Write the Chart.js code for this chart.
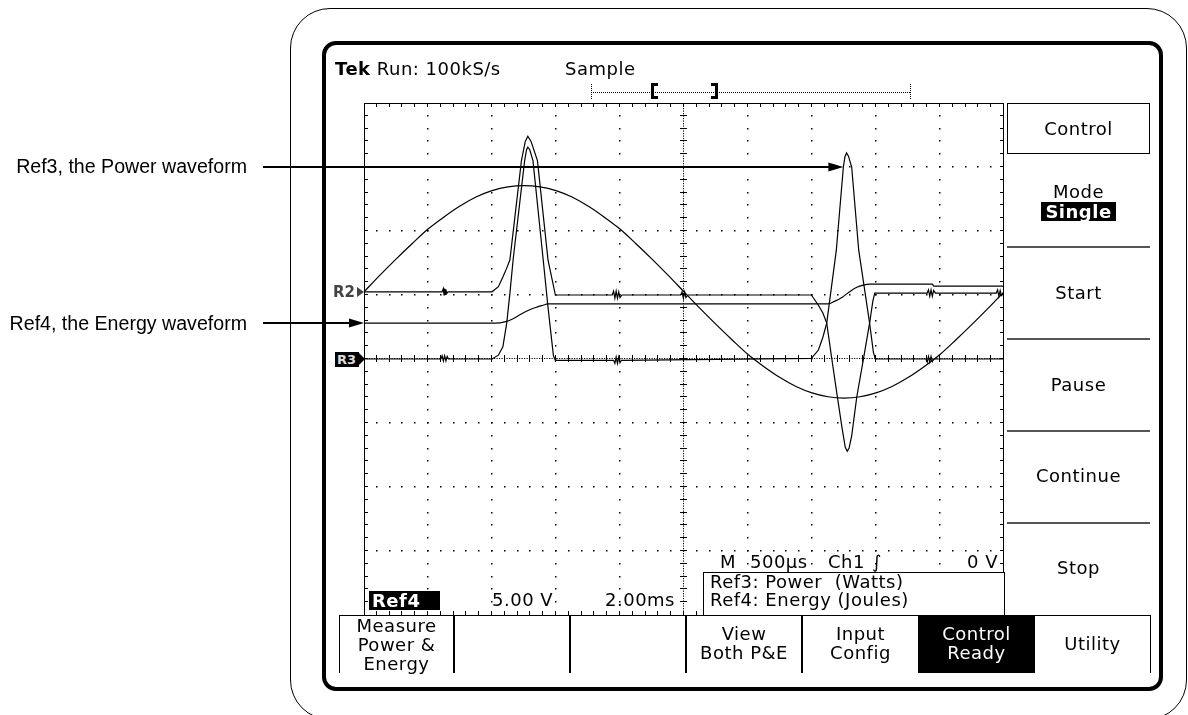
<!DOCTYPE html>
<html>
<head>
<meta charset="utf-8">
<script src="https://cdn.jsdelivr.net/npm/chart.js@4.4.0/dist/chart.umd.min.js"></script>
<style>
  html, body { margin: 0; padding: 0; background: #fff; }
  #stage { position: relative; width: 1188px; height: 715px; overflow: hidden;
           font-family: "DejaVu Sans", sans-serif; color: #000; }
  .abs { position: absolute; white-space: pre; box-sizing: border-box; }
  #scope { position: absolute; left: 0; top: 0; z-index: 2; }
  .bezel { left: 290px; top: 8px; width: 897px; height: 712px; border: 1.5px solid #000; border-radius: 40px; z-index: 1; }
  .frame { left: 322px; top: 41px; width: 841px; height: 650px; border: 4px solid #000; border-radius: 14px; z-index: 1; }
  .ui { z-index: 3; font-size: 18px; letter-spacing: 0.5px; line-height: 20px; }
  .note { z-index: 3; right: 941px; font-family: "Liberation Sans", Arial, sans-serif; font-size: 19.6px; line-height: 20px; text-align: right; }
  .rm { left: 1007px; width: 143px; text-align: center; }
  .ctrl { left: 1007px; top: 103px; width: 143px; height: 51px; border: 1px solid #000; text-align: center; line-height: 49px; }
  .inv { display: inline-block; background: #000; color: #fff; font-weight: bold; line-height: 19px; padding: 0 4px; }
  .sep { left: 1007px; width: 143px; height: 2px; background: #555; z-index: 3; }
  .hl { height: 1px; background: #000; z-index: 3; }
  .vl { width: 2px; background: #000; z-index: 3; }
  .btn { z-index: 3; text-align: center; line-height: 19px; }
  .dot { border-top: 1px dotted #000; height: 0; z-index: 3; }
  .vdot { border-left: 1px dotted #000; width: 0; z-index: 3; }
</style>
</head>
<body>
<div id="stage">
  <div class="abs bezel"></div>
  <div class="abs frame"></div>
  <canvas id="scope" width="1188" height="715"></canvas>

  <!-- callouts -->
  <div class="abs note" style="top:156px">Ref3, the Power waveform</div>
  <div class="abs note" style="top:313px">Ref4, the Energy waveform</div>

  <!-- status line -->
  <div class="abs ui" style="left:335px;top:59px"><b>Tek</b> Run: 100kS/s</div>
  <div class="abs ui" style="left:565px;top:59px">Sample</div>

  <!-- record / trigger position bar -->
  <div class="abs dot" style="left:591px;top:92px;width:319px"></div>
  <div class="abs vdot" style="left:591px;top:84px;height:15px"></div>
  <div class="abs vdot" style="left:910px;top:84px;height:15px"></div>
  <div class="abs" style="left:651px;top:83px;width:7px;height:16px;border:3px solid #000;border-right:none;z-index:3"></div>
  <div class="abs" style="left:711px;top:83px;width:7px;height:16px;border:3px solid #000;border-left:none;z-index:3"></div>

  <!-- reference markers -->
  <div class="abs" style="left:333px;top:283px;font-size:15px;font-weight:bold;color:#444;line-height:18px;z-index:3">R2</div>
  <div class="abs" style="left:357px;top:287px;width:0;height:0;border-left:7px solid #444;border-top:5px solid transparent;border-bottom:5px solid transparent;z-index:3"></div>
  <div class="abs" style="left:335px;top:352px;width:24px;height:15px;background:#000;color:#ddd;font-size:13px;font-weight:bold;line-height:15px;padding-left:2px;z-index:3">R3</div>
  <div class="abs" style="left:358px;top:352px;width:0;height:0;border-left:7px solid #000;border-top:7.5px solid transparent;border-bottom:7.5px solid transparent;z-index:3"></div>

  <!-- right side menu -->
  <div class="abs ui ctrl">Control</div>
  <div class="abs ui rm" style="top:182px">Mode</div>
  <div class="abs ui rm" style="top:202px;line-height:19px"><span class="inv">Single</span></div>
  <div class="abs sep" style="top:246px"></div>
  <div class="abs ui rm" style="top:283px">Start</div>
  <div class="abs sep" style="top:338px"></div>
  <div class="abs ui rm" style="top:375px">Pause</div>
  <div class="abs sep" style="top:430px"></div>
  <div class="abs ui rm" style="top:466px">Continue</div>
  <div class="abs sep" style="top:522px"></div>
  <div class="abs ui rm" style="top:558px">Stop</div>

  <!-- readouts inside the graticule -->
  <div class="abs ui" style="left:369px;top:591px;width:71px;height:19px;background:#000;color:#fff;font-weight:bold;line-height:19px;padding-left:3px">Ref4</div>
  <div class="abs ui" style="left:492px;top:590px">5.00 V</div>
  <div class="abs ui" style="left:605px;top:590px">2.00ms</div>
  <div class="abs ui" style="left:720px;top:552px">M</div>
  <div class="abs ui" style="left:750px;top:552px">500µs</div>
  <div class="abs ui" style="left:828px;top:552px">Ch1</div>
  <div class="abs ui" style="left:872px;top:552px;font-style:italic">∫</div>
  <div class="abs ui" style="left:967px;top:552px">0 V</div>
  <div class="abs ui" style="left:703px;top:572px;width:302px;height:44px;border:1px solid #000;border-bottom:none;background:#fff;line-height:18px;padding-left:6px">Ref3: Power  (Watts)
Ref4: Energy (Joules)</div>

  <!-- bottom menu -->
  <div class="abs hl" style="left:339px;top:615px;width:812px"></div>
  <div class="abs" style="left:339px;top:615px;width:1px;height:58px;background:#000;z-index:3"></div>
  <div class="abs vl" style="left:453px;top:615px;height:58px"></div>
  <div class="abs vl" style="left:569px;top:615px;height:58px"></div>
  <div class="abs vl" style="left:685px;top:615px;height:58px"></div>
  <div class="abs vl" style="left:801px;top:615px;height:58px"></div>
  <div class="abs" style="left:918px;top:615px;width:117px;height:58px;background:#000;z-index:3"></div>
  <div class="abs" style="left:1150px;top:615px;width:1px;height:58px;background:#000;z-index:3"></div>
  <div class="abs ui btn" style="left:340px;top:616px;width:113px">Measure
Power &amp;
Energy</div>
  <div class="abs ui btn" style="left:687px;top:624px;width:114px">View
Both P&amp;E</div>
  <div class="abs ui btn" style="left:803px;top:624px;width:115px">Input
Config</div>
  <div class="abs ui btn" style="left:918px;top:624px;width:117px;color:#fff">Control
Ready</div>
  <div class="abs ui btn" style="left:1035px;top:634px;width:115px">Utility</div>
</div>

<script>
// ---- waveform data (time in divisions, amplitude in divisions) ----

// large sine reference (one full cycle across the screen)
const sineT = [0, 0.25, 0.5, 0.75, 1, 1.25, 1.5, 1.75, 2, 2.25, 2.5, 2.75, 3, 3.25, 3.5, 3.75, 4, 4.25, 4.5, 4.75,
               5, 5.25, 5.5, 5.75, 6, 6.25, 6.5, 6.75, 7, 7.25, 7.5, 7.75, 8, 8.25, 8.5, 8.75, 9, 9.25, 9.5, 9.75, 10];
const sineV = [1.05, 1.31, 1.56, 1.80, 2.03, 2.22, 2.39, 2.53, 2.63, 2.69, 2.71, 2.69, 2.63, 2.53, 2.39, 2.22, 2.03, 1.80, 1.56, 1.31,
               1.05, 0.79, 0.54, 0.30, 0.07, -0.12, -0.29, -0.43, -0.53, -0.59, -0.61, -0.59, -0.53, -0.43, -0.29, -0.12, 0.07, 0.30, 0.54, 0.79, 1.05];

// R2 trace (current pulses, noisy baseline)
const currentT = [0, 1.22, 1.24, 1.25, 1.26, 1.27, 1.28, 1.29, 1.31, 2.0, 2.1, 2.17, 2.23, 2.28, 2.46, 2.52, 2.56, 2.61, 2.71, 2.875, 2.99,
                  3.88, 3.9, 3.92, 3.94, 3.96, 3.98, 4.0, 4.03, 4.95, 4.97, 4.99, 5.01, 5.03, 5.06, 6.99, 7.10, 7.17, 7.23, 7.31, 7.39,
                  7.47, 7.52, 7.55, 7.58, 7.62, 7.70, 7.80, 7.90, 7.95, 7.98, 8.80, 8.82, 8.84, 8.86, 8.88, 8.90, 8.93, 9.88, 9.90,
                  9.92, 9.94, 9.96, 10];
const currentV = [1.05, 1.05, 1.10, 1.00, 1.10, 1.01, 1.09, 1.02, 1.05, 1.05, 1.13, 1.28, 1.42, 1.55, 3.10, 3.40, 3.48, 3.40, 3.10, 1.55, 1.00,
                  1.00, 1.06, 0.95, 1.06, 0.95, 1.05, 0.96, 1.00, 1.00, 1.05, 0.95, 1.05, 0.96, 1.00, 1.00, 0.84, 0.72, 0.56, 0.00, -0.55,
                  -1.08, -1.38, -1.44, -1.39, -1.20, -0.59, -0.02, 0.56, 0.90, 1.03, 1.03, 1.08, 0.98, 1.08, 0.98, 1.07, 1.03, 1.03, 1.08,
                  0.98, 1.07, 0.99, 1.03];

// Ref3 — power
const powerT = [0, 1.20, 1.22, 1.24, 1.26, 1.28, 1.30, 1.32, 2.0, 2.1, 2.17, 2.23, 2.28, 2.33, 2.51, 2.54, 2.56, 2.59, 2.64, 2.80, 2.875,
                2.96, 2.99, 3.90, 3.92, 3.94, 3.96, 3.98, 4.00, 4.02, 6.99, 7.10, 7.17, 7.23, 7.38, 7.49, 7.515, 7.54, 7.57, 7.62,
                7.73, 7.90, 7.96, 7.99, 8.78, 8.80, 8.82, 8.84, 8.86, 8.88, 8.90, 10];
const powerV = [0, 0, 0.05, -0.03, 0.05, -0.03, 0.04, 0, 0, 0.06, 0.19, 0.56, 1.03, 1.55, 3.10, 3.27, 3.31, 3.27, 3.10, 1.55, 0.81,
                0.05, -0.02, -0.02, -0.07, 0.03, -0.07, 0.03, -0.06, -0.02, 0.01, 0.14, 0.34, 0.56, 1.70, 3.00, 3.16, 3.22, 3.17, 3.00,
                1.70, 0.56, 0.10, 0.00, 0, -0.05, 0.04, -0.05, 0.04, -0.04, 0, 0];

// Ref4 — energy
const energyT = [0, 2.05, 2.2, 2.33, 2.45, 2.59, 2.70, 2.80, 2.87, 7.25, 7.35, 7.48, 7.60, 7.70, 7.80, 7.90, 8.88, 8.90, 10];
const energyV = [0.56, 0.56, 0.58, 0.63, 0.70, 0.77, 0.81, 0.84, 0.86, 0.86, 0.90, 0.97, 1.06, 1.12, 1.155, 1.17, 1.17, 1.14, 1.14];

// where the two callout arrows point (time, amplitude)
const calloutTargets = [[7.49, 3.0], [0, 0.56]];

const pairs = (t, v) => t.map((x, i) => ({ x: x, y: v[i] }));

// ---- scope graticule: dotted divisions, center cross and edge ticks ----
const graticule = {
  id: 'graticule',
  beforeDatasetsDraw(chart) {
    const { ctx, chartArea: a, scales: { x, y } } = chart;
    ctx.save();
    ctx.fillStyle = '#000';
    const dot = (px, py) => ctx.fillRect(Math.round(px) - 1, Math.round(py) - 1, 1.5, 1.5);

    for (let d = 1; d < 10; d++) {
      if (d === 5) continue;
      for (let j = 1; j < 40; j++) dot(x.getPixelForValue(d), y.getPixelForValue(-4 + j * 0.2));
    }
    for (let d = -3; d <= 3; d++) {
      if (d === 0) continue;
      for (let j = 1; j < 50; j++) dot(x.getPixelForValue(j * 0.2), y.getPixelForValue(d));
    }
    // center cross
    const cx = Math.round(x.getPixelForValue(5)), cy = Math.round(y.getPixelForValue(0));
    for (let p = a.top; p < a.bottom; p += 2.5) ctx.fillRect(cx - 1, p, 1, 1.2);
    for (let p = a.left; p < a.right; p += 2.5) ctx.fillRect(p, cy - 1, 1.2, 1);
    for (let j = 1; j < 40; j++) ctx.fillRect(cx - 4, Math.round(y.getPixelForValue(-4 + j * 0.2)) - 1, 7, 1);
    for (let j = 1; j < 50; j++) ctx.fillRect(Math.round(x.getPixelForValue(j * 0.2)) - 1, cy - 4, 1, 7);
    // edge ticks
    for (let j = 1; j < 40; j++) {
      const py = Math.round(y.getPixelForValue(-4 + j * 0.2)) - 1;
      ctx.fillRect(a.left, py, 4, 1);
      ctx.fillRect(a.right - 4, py, 4, 1);
    }
    for (let j = 1; j < 50; j++) {
      const px = Math.round(x.getPixelForValue(j * 0.2)) - 1;
      ctx.fillRect(px, a.top, 1, 4);
      ctx.fillRect(px, a.bottom - 4, 1, 4);
    }
    ctx.strokeStyle = '#000';
    ctx.lineWidth = 1;
    ctx.strokeRect(a.left + 0.5, a.top + 0.5, a.right - a.left - 1, a.bottom - a.top);
    ctx.restore();
  }
};

// ---- callout arrows from the side labels ----
const callouts = {
  id: 'callouts',
  afterDraw(chart) {
    const { ctx, scales: { x, y } } = chart;
    ctx.save();
    ctx.strokeStyle = '#000';
    ctx.fillStyle = '#000';
    ctx.lineWidth = 2;
    calloutTargets.forEach(([t, v]) => {
      const tx = x.getPixelForValue(t), ty = Math.round(y.getPixelForValue(v));
      ctx.beginPath();
      ctx.moveTo(263, ty);
      ctx.lineTo(tx - 12, ty);
      ctx.stroke();
      ctx.beginPath();
      ctx.moveTo(tx, ty);
      ctx.lineTo(tx - 15, ty - 4.5);
      ctx.lineTo(tx - 15, ty + 4.5);
      ctx.closePath();
      ctx.fill();
    });
    ctx.restore();
  }
};

const trace = (data, smooth) => ({
  data: data,
  borderColor: '#000',
  borderWidth: 1.2,
  pointRadius: 0,
  fill: false,
  tension: 0,
  cubicInterpolationMode: smooth ? 'monotone' : 'default'
});

new Chart(document.getElementById('scope'), {
  type: 'line',
  data: {
    datasets: [
      trace(pairs(sineT, sineV), true),
      trace(pairs(currentT, currentV), false),
      trace(pairs(powerT, powerV), false),
      trace(pairs(energyT, energyV), true)
    ]
  },
  options: {
    responsive: false,
    animation: false,
    events: [],
    layout: { padding: { left: 364, right: 184, top: 103, bottom: 100 } },
    plugins: { legend: { display: false }, tooltip: { enabled: false } },
    scales: {
      x: { type: 'linear', min: 0, max: 10, display: false },
      y: { type: 'linear', min: -4, max: 4, display: false }
    }
  },
  plugins: [graticule, callouts]
});
</script>
</body>
</html>
